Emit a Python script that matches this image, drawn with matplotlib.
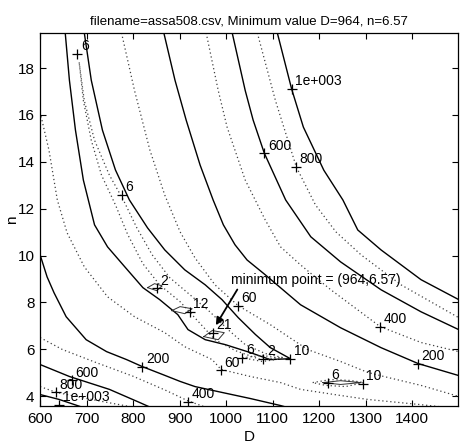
import matplotlib
matplotlib.use("Agg")
import matplotlib.pyplot as plt

plt.rcParams["font.family"] = ["Liberation Sans", "DejaVu Sans"]

CSV_NAME = "assa508.csv"
MIN_D, MIN_N = 964, 6.57

D_TICKS = [600, 700, 800, 900, 1000, 1100, 1200, 1300, 1400]
N_TICKS = [4, 6, 8, 10, 12, 14, 16, 18]

# --- contour traces, (D, n) ---
# upper / right side of the valley
c1000_up_D = [1110, 1141, 1166, 1210, 1251, 1283, 1333, 1419, 1500]
c1000_up_n = [19.5, 17.09, 15.48, 13.64, 12.37, 11.09, 10.24, 8.97, 8.12]
c800_up_D = [1067, 1106, 1151, 1192, 1236, 1290, 1376, 1500]
c800_up_n = [19.5, 16.61, 13.77, 12.16, 11.01, 10.03, 8.75, 7.35]
c600_up_D = [1013, 1041, 1058, 1082, 1128, 1182, 1246, 1333, 1419, 1500]
c600_up_n = [19.5, 17.04, 15.78, 14.37, 12.37, 10.80, 9.73, 8.54, 7.60, 6.84]
c400_up_D = [957, 983, 1002, 1041, 1084, 1117, 1160, 1225, 1331, 1419, 1500]
c400_up_n = [19.5, 17.04, 15.48, 13.22, 11.52, 10.37, 9.60, 8.54, 6.97, 6.29, 5.90]
c200_up_D = [866, 890, 914, 944, 972, 994, 1019, 1045, 1084, 1160, 1246, 1333, 1413, 1500]
c200_up_n = [19.5, 17.48, 15.78, 13.86, 12.37, 11.31, 10.46, 9.81, 9.18, 7.90, 6.92, 6.07, 5.39, 4.88]
c60_up_D = [775, 803, 836, 868, 901, 933, 976, 1026, 1095, 1175, 1246, 1305, 1339, 1419, 1500]
c60_up_n = [19.5, 17.04, 14.50, 12.58, 11.01, 9.90, 8.75, 7.86, 7.05, 5.99, 5.48, 5.01, 4.84, 4.46, 3.99]

# narrow loops along the valley
c10_D = [695, 710, 734, 762, 792, 831, 868, 911, 955, 991, 1026, 1063, 1095, 1138,
         1095, 1052, 998, 955, 918, 896, 857, 821, 782, 745, 717, 693, 676, 663, 654]
c10_n = [19.5, 17.48, 15.35, 13.65, 12.37, 11.18, 10.24, 9.39, 8.75, 8.12, 7.35, 6.63, 6.07, 5.60,
         5.56, 5.86, 6.20, 6.41, 6.84, 7.48, 8.12, 8.63, 9.52, 10.37, 11.31, 13.22, 15.35, 17.48, 19.5]
c6_D = [684, 695, 717, 749, 779, 808, 841, 879, 922, 965, 1004, 1041, 1084, 1121,
        1074, 1019, 976, 944, 901, 857, 821, 788, 762, 732, 710, 693, 684]
c6_n = [18.24, 16.61, 14.92, 13.43, 12.37, 11.18, 10.03, 9.05, 8.33, 7.60, 6.84, 6.20, 5.82, 5.65,
        5.56, 5.95, 6.41, 7.10, 8.03, 8.75, 9.65, 10.91, 12.16, 13.43, 14.92, 16.61, 18.24]
c2a_D = [831, 846, 862, 851, 831]
c2a_n = [8.63, 8.80, 8.71, 8.50, 8.63]
c2b_D = [883, 901, 927, 911, 883]
c2b_n = [7.65, 7.82, 7.73, 7.52, 7.65]
c2c_D = [952, 970, 996, 983, 952]
c2c_n = [6.54, 6.80, 6.71, 6.41, 6.54]
c2d_D = [1035, 1078, 1120, 1078, 1035]
c2d_n = [5.64, 5.74, 5.60, 5.48, 5.64]
c10b_D = [1186, 1225, 1268, 1296, 1257, 1214, 1186]
c10b_n = [4.58, 4.71, 4.67, 4.58, 4.41, 4.46, 4.58]
c6b_D = [1208, 1246, 1290, 1246, 1208]
c6b_n = [4.58, 4.66, 4.58, 4.50, 4.58]

# lower / left side of the valley
c60_lo_D = [600, 619, 637, 658, 695, 745, 803, 868, 911, 970, 989, 1052, 1117, 1160, 1246, 1305, 1413, 1474]
c60_lo_n = [16.11, 14.50, 12.37, 10.97, 9.52, 8.24, 7.39, 6.71, 6.11, 5.56, 5.14, 4.84, 4.58, 4.29, 4.03, 3.86, 3.65, 3.52]
c200_lo_D = [600, 615, 630, 656, 699, 743, 786, 820, 864, 901, 933, 991, 1052, 1117, 1135]
c200_lo_n = [10.03, 9.09, 8.41, 7.39, 6.41, 5.90, 5.56, 5.26, 4.92, 4.63, 4.41, 4.16, 3.90, 3.60, 3.50]
c400_lo_D = [600, 648, 721, 800, 870, 918, 960]
c400_lo_n = [6.50, 5.99, 5.43, 4.85, 4.25, 3.80, 3.50]
c600_lo_D = [600, 663, 749, 814, 840]
c600_lo_n = [5.35, 4.84, 4.29, 3.73, 3.50]
c800_lo_D = [600, 635, 721, 792, 810]
c800_lo_n = [4.41, 4.16, 3.82, 3.56, 3.50]
c1000_lo_D = [600, 641, 695]
c1000_lo_n = [4.07, 3.86, 3.50]

# contour labels (clabel style: "+" plus text)
label_txt = ["6", "6", "2", "12", "21", "60", "60", "6", "2", "10", "6", "10",
             "200", "400", "600", "800", "1e+003", "200", "400", "600", "800", "1e+003"]
label_D = [680, 775, 851, 922, 972, 1026, 989, 1035, 1080, 1138, 1218, 1294,
           1413, 1331, 1082, 1151, 1141, 820, 918, 668, 634, 641]
label_n = [18.6, 12.6, 8.6, 7.6, 6.7, 7.86, 5.10, 5.64, 5.6, 5.6, 4.58, 4.54,
           5.39, 6.96, 14.36, 13.77, 17.1, 5.26, 3.77, 4.68, 4.16, 3.62]

solid = dict(color="black", lw=1.0, ls="-")
dotted = dict(color="0.25", lw=0.9, ls=(0, (1, 2.2)))
thin = dict(color="0.2", lw=0.7, ls="-")

lines = [
    (c1000_up_D, c1000_up_n, solid), (c800_up_D, c800_up_n, dotted),
    (c600_up_D, c600_up_n, solid), (c400_up_D, c400_up_n, dotted),
    (c200_up_D, c200_up_n, solid), (c60_up_D, c60_up_n, dotted),
    (c10_D, c10_n, solid), (c6_D, c6_n, dotted),
    (c2a_D, c2a_n, thin), (c2b_D, c2b_n, thin), (c2c_D, c2c_n, thin), (c2d_D, c2d_n, dotted),
    (c10b_D, c10b_n, dotted), (c6b_D, c6b_n, thin),
    (c60_lo_D, c60_lo_n, dotted), (c200_lo_D, c200_lo_n, solid),
    (c400_lo_D, c400_lo_n, dotted), (c600_lo_D, c600_lo_n, solid),
    (c800_lo_D, c800_lo_n, dotted), (c1000_lo_D, c1000_lo_n, solid),
]

fig = plt.figure(figsize=(4.61, 4.44), dpi=100)
ax = fig.add_axes([0.087, 0.085, 0.906, 0.841])

for d, n, st in lines:
    ax.plot(d, n, **st)

for t, d, n in zip(label_txt, label_D, label_n):
    ax.plot(d, n, marker="+", color="black", ms=7, mew=0.9, ls="none")
    ax.annotate(t, (d, n), xytext=(2.5, 0.5), textcoords="offset points",
                ha="left", va="bottom", fontsize=10)

ax.text(1011, 8.8, "minimum point = (%d,%.2f)" % (MIN_D, MIN_N), fontsize=10,
        ha="left", va="baseline")
ax.annotate("", xy=(MIN_D, MIN_N), xytext=(1024, 8.55),
            arrowprops=dict(arrowstyle="-|>", color="black", lw=1.3,
                            mutation_scale=11, shrinkA=0, shrinkB=9))

ax.set_xlim(600, 1498)
ax.set_ylim(3.57, 19.5)
ax.set_xticks(D_TICKS)
ax.set_yticks(N_TICKS)
ax.tick_params(direction="in", top=True, right=True, length=4, width=0.8,
               labelsize=11, pad=4)
for s in ax.spines.values():
    s.set_linewidth(0.9)
ax.set_xlabel("D", fontsize=11, labelpad=3)
ax.set_ylabel("n", fontsize=11, va="center")
ax.yaxis.set_label_coords(-0.068, 0.5)
ax.set_title("filename=%s, Minimum value D=%d, n=%.2f" % (CSV_NAME, MIN_D, MIN_N),
             fontsize=9.5, pad=6)

fig.savefig("out.png", dpi=100)
